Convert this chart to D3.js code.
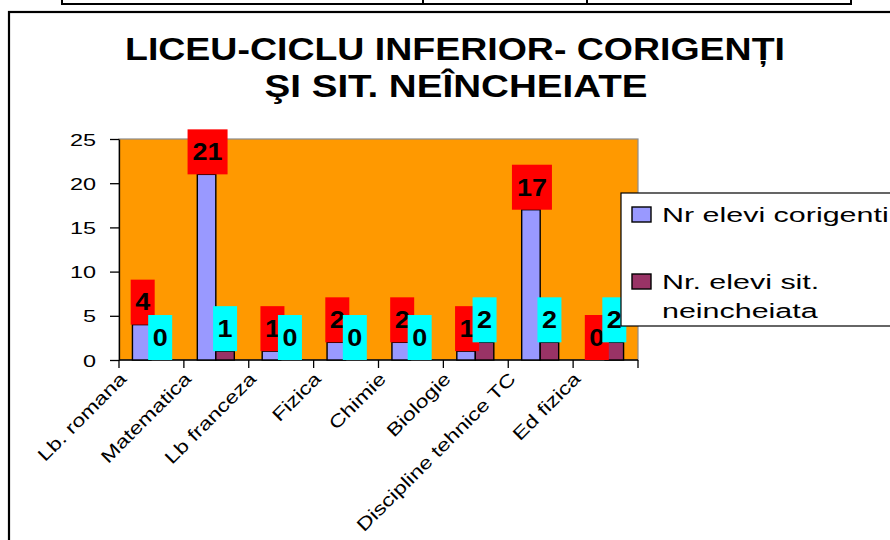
<!DOCTYPE html>
<html>
<head>
<meta charset="utf-8">
<script src="https://cdn.jsdelivr.net/npm/d3@7"></script>
<style>
  body { margin: 0; background: #fff; }
  svg { display: block; }
</style>
</head>
<body>
<svg id="chart" width="890" height="540"></svg>
<script>
// Subjects and counts per subject
const categories = ["Lb. romana", "Matematica", "Lb franceza", "Fizica", "Chimie", "Biologie", "Discipline tehnice TC", "Ed fizica"];
const corigenti = [4, 21, 1, 2, 2, 1, 17, 0];
const neincheiate = [0, 1, 0, 0, 0, 2, 2, 2];
const seriesNames = [["Nr elevi corigenti"], ["Nr. elevi sit.", "neincheiata"]];
const yTicks = [0, 5, 10, 15, 20, 25];
const titleLines = ["LICEU-CICLU INFERIOR- CORIGENȚI", "ŞI SIT. NEÎNCHEIATE"];

const FONT = "'Liberation Sans', Arial, Helvetica, sans-serif";
const colors = { corigenti: "#9999FF", neincheiate: "#993366", plot: "#FF9900" };
const labelFill = ["#FF0000", "#00FFFF"];

const svg = d3.select("#chart");

// table edge above the chart object
const table = svg.append("g").attr("stroke", "#000").attr("stroke-width", 2).attr("fill", "none");
table.append("path").attr("d", "M62,0V4H851V0");
table.append("line").attr("x1", 423).attr("x2", 423).attr("y1", 0).attr("y2", 4);
table.append("line").attr("x1", 587).attr("x2", 587).attr("y1", 0).attr("y2", 4);

// chart object frame
svg.append("rect").attr("x", 9).attr("y", 12).attr("width", 920).attr("height", 600)
  .attr("fill", "#fff").attr("stroke", "#000").attr("stroke-width", 2.2);

// title
const titleLayout = [{ cx: 455, y: 60, w: 660 }, { cx: 456, y: 97, w: 383 }];
svg.append("g").selectAll("text").data(titleLines).join("text")
  .attr("x", (d, i) => titleLayout[i].cx)
  .attr("y", (d, i) => titleLayout[i].y)
  .attr("text-anchor", "middle")
  .attr("font-family", FONT).attr("font-weight", "bold").attr("font-size", 30.5)
  .attr("textLength", (d, i) => titleLayout[i].w)
  .attr("lengthAdjust", "spacingAndGlyphs")
  .text(d => d);

// scales
const plot = { left: 119, right: 638, top: 139, bottom: 360 };
const x = d3.scaleBand().domain(categories).range([plot.left, plot.right]).padding(0);
const groupW = 37;
const x1 = d3.scaleBand().domain([0, 1]).range([0, groupW]);
const y = d3.scaleLinear().domain([0, 25]).range([plot.bottom, plot.top]);

// plot area
svg.append("rect")
  .attr("x", plot.left).attr("y", plot.top)
  .attr("width", plot.right - plot.left).attr("height", plot.bottom - plot.top)
  .attr("fill", colors.plot).attr("stroke", "#8c8c8c").attr("stroke-width", 1.2);

// y axis
const yAxis = svg.append("g").attr("transform", `translate(${plot.left},0)`)
  .call(d3.axisLeft(y).tickValues(yTicks).tickSize(9).tickSizeOuter(0).tickFormat(d3.format("d")));
yAxis.select(".domain").attr("stroke", "#000").attr("stroke-width", 1.3);
yAxis.selectAll(".tick line").attr("stroke", "#000").attr("stroke-width", 1.3);
yAxis.selectAll(".tick text")
  .attr("x", null).attr("dy", null)
  .attr("transform", "translate(-23,6) scale(1.42,1)")
  .attr("font-family", FONT).attr("font-size", 16.5).attr("fill", "#000");

// x axis
const xAxis = svg.append("g").attr("transform", `translate(0,${plot.bottom})`);
xAxis.append("line").attr("x1", plot.left).attr("x2", plot.right)
  .attr("stroke", "#000").attr("stroke-width", 1.3);
const bounds = categories.map(c => x(c)).concat([plot.right]);
xAxis.selectAll("line.tk").data(bounds).join("line").attr("class", "tk")
  .attr("x1", d => d).attr("x2", d => d).attr("y1", 0).attr("y2", 8)
  .attr("stroke", "#000").attr("stroke-width", 1.3);
xAxis.selectAll("text").data(categories).join("text")
  .attr("transform", d => `translate(${x(d) + x.bandwidth() / 2 - 24},${20}) rotate(-45) scale(1.28,1)`)
  .attr("text-anchor", "end")
  .attr("font-family", FONT).attr("font-size", 18).attr("fill", "#000")
  .text(d => d);

// bars
const series = [corigenti, neincheiate];
const fills = [colors.corigenti, colors.neincheiate];
const groupOffset = (x.bandwidth() - groupW) / 2 - 0.5;
const barX = (i, s) => x(categories[i]) + groupOffset + x1(s);
series.forEach((vals, s) => {
  svg.append("g").selectAll("rect").data(vals).join("rect")
    .attr("x", (d, i) => barX(i, s))
    .attr("y", d => y(d))
    .attr("width", x1.bandwidth())
    .attr("height", d => y(0) - y(d))
    .attr("fill", fills[s]).attr("stroke", "#000").attr("stroke-width", 1.4);
});

// value labels on coloured boxes
const boxH = 45;
series.forEach((vals, s) => {
  const g = svg.append("g");
  vals.forEach((v, i) => {
    const cx = barX(i, s) + x1.bandwidth() / 2 + (s === 0 ? 1 : 0);
    const top = y(v) - boxH;
    const digits = String(v).length;
    const w = digits === 1 ? 24 : 40;
    g.append("rect").attr("x", cx - w / 2).attr("y", top).attr("width", w).attr("height", boxH)
      .attr("fill", labelFill[s]);
    g.append("text")
      .attr("transform", `translate(${cx},${top + boxH / 2 + 8.3}) scale(1.17,1)`)
      .attr("text-anchor", "middle")
      .attr("font-family", FONT).attr("font-weight", "bold").attr("font-size", 23).attr("fill", "#000")
      .text(v);
  });
});

// legend
const legend = svg.append("g");
legend.append("rect").attr("x", 621).attr("y", 193).attr("width", 300).attr("height", 133)
  .attr("fill", "#fff").attr("stroke", "#000").attr("stroke-width", 1.2);
const legendY = [207, 274];
seriesNames.forEach((lines, s) => {
  legend.append("rect").attr("x", 632).attr("y", legendY[s]).attr("width", 19).attr("height", 15)
    .attr("fill", fills[s]).attr("stroke", "#000").attr("stroke-width", 1.4);
  lines.forEach((t, j) => {
    legend.append("text")
      .attr("transform", `translate(662,${legendY[s] + 15 + j * 29}) scale(1.45,1)`)
      .attr("font-family", FONT).attr("font-size", 21).attr("fill", "#000")
      .text(t);
  });
});
</script>
</body>
</html>
